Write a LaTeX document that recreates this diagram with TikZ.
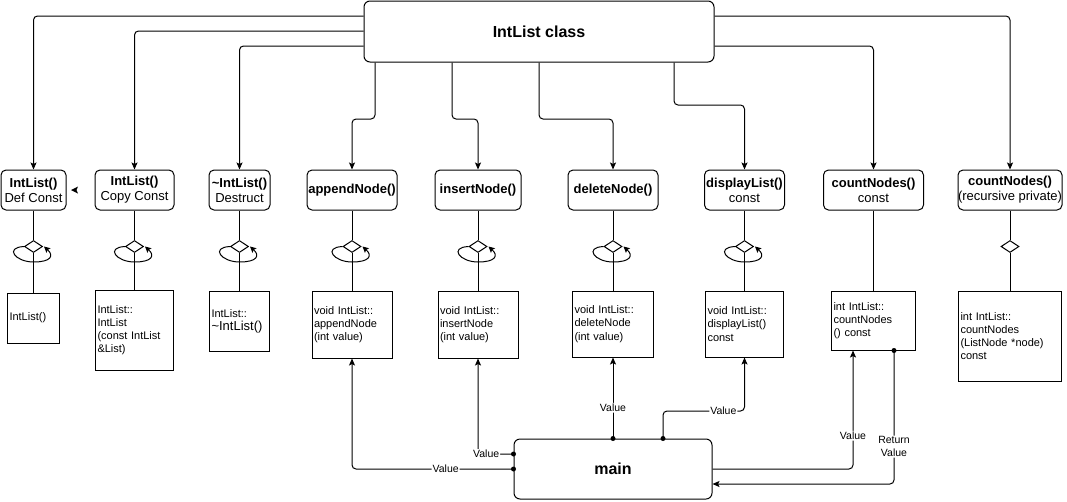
\documentclass[tikz,border=0pt]{standalone}
\usepackage{fontspec}
\setmainfont{Liberation Sans}
\usetikzlibrary{arrows.meta,shapes.geometric}
\begin{document}
\begin{tikzpicture}[x=1pt,y=-1pt,line width=1pt,
  clsbox/.style={draw,rounded corners=6pt,inner sep=0pt,font=\fontsize{16}{19}\selectfont\bfseries},
  method/.style={draw,rounded corners=5pt,inner sep=0pt,align=center,minimum height=40pt,font=\fontsize{13}{15}\selectfont},
  codebox/.style={draw,inner sep=2pt,align=left,font=\fontsize{11}{13.2}\selectfont},
  dia/.style={draw,diamond,inner sep=0pt,minimum width=18pt,minimum height=12pt},
  arr/.style={-{Stealth[length=7pt,width=6pt,inset=1.5pt]},rounded corners=4pt},
  looparr/.style={-{Stealth[length=6pt,width=6pt,inset=1pt]}},
  lbl/.style={fill=white,inner sep=1pt,font=\fontsize{10.5}{12.5}\selectfont,align=center},
  mainbox/.style={draw,rounded corners=6pt,inner sep=0pt,font=\fontsize{16}{19}\selectfont\bfseries}]
\useasboundingbox (0,0) rectangle (1067,501);

% class box
\node[clsbox,minimum width=350pt,minimum height=61pt] (cls) at (539,31.5) {IntList class};

% method boxes
\node[method,minimum width=65pt]  (m1) at (33.5,190)  {\textbf{IntList()}\\Def Const};
\node[method,minimum width=79pt]  (m2) at (134.5,190) {\textbf{IntList()}\\Copy Const};
\node[method,minimum width=61pt]  (m3) at (239.5,190) {\textbf{\textasciitilde IntList()}\\Destruct};
\node[method,minimum width=90pt]  (m4) at (352,190)   {\textbf{appendNode()}};
\node[method,minimum width=86pt]  (m5) at (478,190)   {\textbf{insertNode()}};
\node[method,minimum width=90pt]  (m6) at (613,190)   {\textbf{deleteNode()}};
\node[method,minimum width=80pt]  (m7) at (744.5,190) {\textbf{displayList()}\\const};
\node[method,minimum width=100pt] (m8) at (873.5,190) {\textbf{countNodes()}\\const};
\node[method,minimum width=104pt] (m9) at (1010,190)  {\textbf{countNodes()}\\(recursive private)};

% diamonds
\node[dia] (d1) at (33.5,246.5) {};
\node[dia] (d2) at (134.5,246.5) {};
\node[dia] (d3) at (239.5,246.5) {};
\node[dia] (d4) at (352,246.5) {};
\node[dia] (d5) at (478,246.5) {};
\node[dia] (d6) at (613,246.5) {};
\node[dia] (d7) at (744.5,246.5) {};
\node[dia] (d9) at (1010,246.5) {};

% code boxes
\node[codebox,text width=48pt,minimum height=50pt] (r1) at (33.5,318) {IntList()};
\node[codebox,text width=74pt,minimum height=80pt] (r2) at (134.5,330) {IntList::\\IntList\\(const IntList\\\&List)};
\node[codebox,text width=56pt,minimum height=60pt] (r3) at (239.5,321) {IntList::\\{\fontsize{13}{15}\selectfont\textasciitilde IntList()}};
\node[codebox,text width=76pt,minimum height=67pt] (r4) at (352,324.5) {void IntList::\\appendNode\\(int value)};
\node[codebox,text width=76pt,minimum height=67pt] (r5) at (478,324.5) {void IntList::\\insertNode\\(int value)};
\node[codebox,text width=77pt,minimum height=66pt] (r6) at (613,324) {void IntList::\\deleteNode\\(int value)};
\node[codebox,text width=74pt,minimum height=66pt] (r7) at (744.5,324) {void IntList::\\displayList()\\const};
\node[codebox,text width=80pt,minimum height=59pt] (r8) at (873.5,320.5) {int IntList::\\countNodes\\() const};
\node[codebox,text width=99pt,minimum height=90pt] (r9) at (1010,336) {int IntList::\\countNodes\\(ListNode *node)\\const};

% main box
\node[mainbox,minimum width=198pt,minimum height=60pt] (main) at (613,469) {main};

% class -> methods
\draw[arr] (cls.west |- 0,16) -| (m1.north);
\draw[arr] (cls.west |- 0,31) -| (m2.north);
\draw[arr] (cls.west |- 0,46) -| (m3.north);
\draw[arr] (cls.south -| 375,0) -- (375,119) -| (m4.north);
\draw[arr] (cls.south -| 452,0) -- (452,119) -| (m5.north);
\draw[arr] (cls.south -| 539,0) -- (539,119) -| (m6.north);
\draw[arr] (cls.south -| 674,0) -- (674,105) -| (m7.north);
\draw[arr] (cls.east |- 0,46) -| (m8.north);
\draw[arr] (cls.east |- 0,16) -| (m9.north);

% stray arrowhead next to first box
\fill (78,186.5) -- (71,190) -- (78,193.5) -- (76.5,190) -- cycle;

% method -> diamond -> code
\foreach \i in {1,2,3,4,5,6,7,9}{
  \draw (m\i.south) -- (d\i.north);
  \draw (d\i.south) -- (d\i.south |- r\i.north);
}
\draw (m8.south) -- (r8.north);

% self loops
\foreach \d in {d1,d2,d3,d4,d5,d6,d7}{
  \draw[looparr] (\d.west) .. controls +(-20,1) and +(-18,0) .. ([yshift=-9pt]\d.south) .. controls +(18,0) and +(10,9) .. ([xshift=1pt]\d.east);
}

% main -> code boxes
\draw[arr] (main.west) -| node[lbl,pos=0.21] {Value} (r4.south);
\fill (main.west) circle[radius=2.5pt];
\draw[arr] (main.west |- 0,454) -| node[lbl,pos=0.385] {Value} (r5.south);
\fill (main.west |- 0,454) circle[radius=2.5pt];
\draw[arr] (main.north) -- node[lbl,pos=0.38] {Value} (r6.south);
\fill (main.north) circle[radius=2.5pt];
\draw[arr] (main.north -| 663,0) -- (663,411) -| node[lbl,pos=0.37] {Value} (r7.south);
\fill (main.north -| 663,0) circle[radius=2.5pt];
\draw[arr] (main.east) -| node[lbl,pos=0.64] {Value} (r8.south -| 853,0);
\draw[arr] (r8.south -| 894,0) |- node[lbl,pos=0.36] {Return\\Value} (main.east |- 0,484);
\fill (r8.south -| 894,0) circle[radius=2.5pt];
\end{tikzpicture}
\end{document}
